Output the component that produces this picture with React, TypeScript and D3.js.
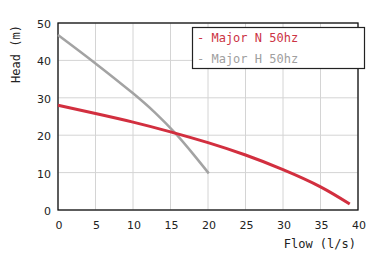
import React from "react";
import * as d3 from "d3";

const xTicks = [0, 5, 10, 15, 20, 25, 30, 35, 40];
const yTicks = [0, 10, 20, 30, 40, 50];
const seriesNames = ["Major N 50hz", "Major H 50hz"];
const seriesColors = ["#d22f3f", "#a3a3a3"];
const majorNFlow = [0, 5, 10, 15, 20, 25, 30, 35, 38.9];
const majorNHead = [28, 25.8, 23.5, 20.9, 18, 14.7, 10.8, 6.2, 1.6];
const majorHFlow = [0, 5, 10, 13, 15.6, 18, 20.1];
const majorHHead = [46.8, 39.2, 31.2, 25.9, 20.6, 15, 9.8];

export default function App() {
  const W = 375, H = 262;
  const m = { l: 58, r: 17, t: 23, b: 52 };
  const x = d3.scaleLinear().domain([0, 40]).range([m.l, W - m.r]);
  const y = d3.scaleLinear().domain([0, 50]).range([H - m.b, m.t]);
  const line = d3
    .line<[number, number]>()
    .x((d) => x(d[0]))
    .y((d) => y(d[1]))
    .curve(d3.curveNatural);
  const nData = majorNFlow.map((f, i) => [f, majorNHead[i]] as [number, number]);
  const hData = majorHFlow.map((f, i) => [f, majorHHead[i]] as [number, number]);
  const mono = "'DejaVu Sans Mono', monospace";
  const sans = "'DejaVu Sans', sans-serif";
  return (
    <svg width={W} height={H} style={{ position: "absolute", left: 0, top: 0 }}>
      <rect width={W} height={H} fill="#fff" />
      {xTicks.map((t) => (
        <line key={"gx" + t} x1={x(t)} x2={x(t)} y1={y(0)} y2={y(50)} stroke="#d4d4d4" strokeWidth={1} />
      ))}
      {yTicks.map((t) => (
        <line key={"gy" + t} x1={x(0)} x2={x(40)} y1={y(t)} y2={y(t)} stroke="#d4d4d4" strokeWidth={1} />
      ))}
      <rect x={x(0)} y={y(50)} width={x(40) - x(0)} height={y(0) - y(50)} fill="none" stroke="#111" strokeWidth={1.3} />
      <path d={line(hData) || ""} fill="none" stroke={seriesColors[1]} strokeWidth={2.5} />
      <path d={line(nData) || ""} fill="none" stroke={seriesColors[0]} strokeWidth={3} />
      {xTicks.map((t) => (
        <text key={"tx" + t} x={x(t) + 1} y={y(0) + 19} textAnchor="middle" fontFamily={sans} fontSize={11} fill="#222">
          {t}
        </text>
      ))}
      {yTicks.map((t) => (
        <text key={"ty" + t} x={x(0) - 7} y={y(t) + 5} textAnchor="end" fontFamily={sans} fontSize={11} fill="#222">
          {t}
        </text>
      ))}
      <text x={W - 19} y={248} textAnchor="end" fontFamily={mono} fontSize={12} fill="#222">
        Flow (l/s)
      </text>
      <text transform={`translate(20,54) rotate(-90)`} textAnchor="middle" fontFamily={mono} fontSize={12} fill="#222">
        Head (m)
      </text>
      <rect x={192.5} y={27.5} width={172} height={41} fill="#fff" stroke="#222" strokeWidth={1.2} />
      {seriesNames.map((n, i) => (
        <text key={n} x={197} y={42 + i * 21} fontFamily={mono} fontSize={12} fill={i === 0 ? "#cc3344" : "#a0a0a0"}>
          {"- " + n}
        </text>
      ))}
    </svg>
  );
}
